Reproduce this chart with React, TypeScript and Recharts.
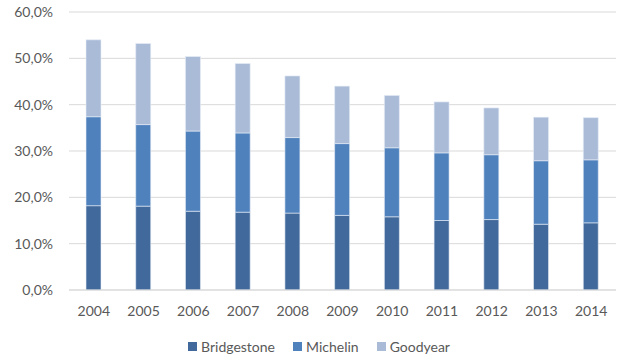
import React from "react";
import { BarChart, Bar, XAxis, YAxis, CartesianGrid, Legend } from "recharts";

const years = ["2004", "2005", "2006", "2007", "2008", "2009", "2010", "2011", "2012", "2013", "2014"];
const bridgestone = [18.2, 18.1, 17.0, 16.8, 16.6, 16.1, 15.8, 15.0, 15.2, 14.2, 14.5];
const michelin = [19.2, 17.6, 17.3, 17.1, 16.3, 15.5, 14.9, 14.6, 14.0, 13.7, 13.6];
const goodyear = [16.6, 17.5, 16.1, 15.0, 13.3, 12.4, 11.3, 11.0, 10.1, 9.4, 9.1];
const yTicks = [0, 10, 20, 30, 40, 50, 60];

const data = years.map((year, i) => ({
  year,
  Bridgestone: bridgestone[i],
  Michelin: michelin[i],
  Goodyear: goodyear[i],
}));

const series = [
  { key: "Bridgestone", color: "#41699b" },
  { key: "Michelin", color: "#4f81bd" },
  { key: "Goodyear", color: "#aabbd8" },
];

const FONT = "Lato, 'Open Sans', sans-serif";
const TEXT = "#595959";

const fmt = (v: number) => `${v.toFixed(1).replace(".", ",")}%`;

const LegendContent = () => (
  <div
    style={{
      display: "flex",
      justifyContent: "center",
      fontFamily: FONT,
      fontSize: 14,
      color: TEXT,
      paddingLeft: 40,
    }}
  >
    {series.map((s) => (
      <div key={s.key} style={{ display: "flex", alignItems: "center", marginRight: 18 }}>
        <span style={{ width: 9, height: 9, background: s.color, marginRight: 4, display: "inline-block" }} />
        <span>{s.key}</span>
      </div>
    ))}
  </div>
);

export default function App() {
  return (
    <div style={{ position: "absolute", left: 0, top: 0, background: "#fff" }}>
      <BarChart
        width={622}
        height={358}
        data={data}
        margin={{ top: 12, right: 6, left: 0, bottom: 0 }}
        barSize={15}
      >
        <CartesianGrid vertical={false} stroke="#d9d9d9" />
        <XAxis
          dataKey="year"
          axisLine={{ stroke: "#d9d9d9" }}
          tickLine={false}
          tickMargin={10}
          height={51}
          tick={{ fill: TEXT, fontSize: 14, fontFamily: FONT }}
        />
        <YAxis
          width={69}
          domain={[0, 60]}
          ticks={yTicks}
          tickFormatter={fmt}
          axisLine={false}
          tickLine={false}
          tickMargin={10}
          tick={{ fill: TEXT, fontSize: 14, fontFamily: FONT }}
        />
        <Legend verticalAlign="bottom" content={<LegendContent />} wrapperStyle={{ bottom: 3 }} />
        {series.map((s) => (
          <Bar
            key={s.key}
            dataKey={s.key}
            stackId="a"
            fill={s.color}
            stroke="#e8eef7"
            strokeWidth={0.6}
            isAnimationActive={false}
          />
        ))}
      </BarChart>
    </div>
  );
}
